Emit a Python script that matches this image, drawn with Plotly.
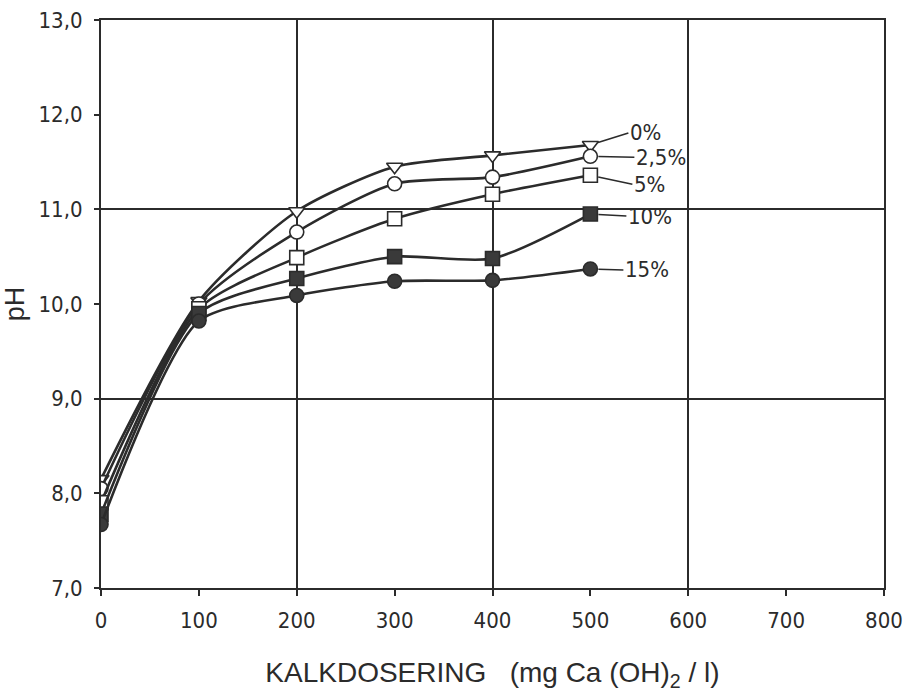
import plotly.graph_objects as go

# Data
dose = [0, 100, 200, 300, 400, 500]
ph_0 = [8.15, 10.03, 10.98, 11.45, 11.57, 11.68]
ph_25 = [8.05, 10.00, 10.76, 11.27, 11.34, 11.56]
ph_5 = [7.90, 9.95, 10.49, 10.90, 11.16, 11.36]
ph_10 = [7.78, 9.90, 10.27, 10.50, 10.48, 10.95]
ph_15 = [7.67, 9.82, 10.09, 10.24, 10.25, 10.37]

series_labels = ["0%", "2,5%", "5%", "10%", "15%"]
series_values = [ph_0, ph_25, ph_5, ph_10, ph_15]
x_ticks = [0, 100, 200, 300, 400, 500, 600, 700, 800]
y_ticks = [7, 8, 9, 10, 11, 12, 13]
x_grid = [200, 400, 600, 800]
y_grid = [9, 11, 13]

INK = "#2b2b2b"
NARROW = "DejaVu Sans Condensed, Liberation Sans Narrow, Liberation Sans, sans-serif"
WIDE = "Liberation Sans, sans-serif"

styles = [
    dict(symbol="triangle-down", color="white"),
    dict(symbol="circle", color="white"),
    dict(symbol="square", color="white"),
    dict(symbol="square", color="#3a3a3a"),
    dict(symbol="circle", color="#3a3a3a"),
]
label_offsets = [(38, -12), (44, 1), (42, 9), (36, 2), (33, 1)]

fig = go.Figure()

# invisible trace to carry the grid overlay axes
fig.add_trace(go.Scatter(x=[0, 800], y=[7, 13], mode="markers",
                         marker=dict(opacity=0), xaxis="x2", yaxis="y2",
                         hoverinfo="skip", showlegend=False))

for lab, vals, st in zip(series_labels, series_values, styles):
    fig.add_trace(go.Scatter(
        x=dose, y=vals, mode="lines+markers", name=lab,
        line=dict(color=INK, width=2.6, shape="spline", smoothing=0.7),
        marker=dict(symbol=st["symbol"], size=14, color=st["color"],
                    line=dict(color=INK, width=1.6)),
        showlegend=False,
    ))

annotations = []
for lab, vals, (ax, ay) in zip(series_labels, series_values, label_offsets):
    annotations.append(dict(
        x=dose[-1], y=vals[-1], xref="x", yref="y",
        text=lab, showarrow=True, arrowhead=0, arrowwidth=1.6,
        arrowcolor=INK, ax=ax, ay=ay, xanchor="left", standoff=8,
        font=dict(family=NARROW, size=22, color=INK),
    ))

fig.update_layout(
    width=903, height=693,
    margin=dict(l=101, r=19, t=20, b=105),
    paper_bgcolor="white", plot_bgcolor="white",
    separators=",.",
    font=dict(family=NARROW, color=INK, size=18),
    xaxis=dict(range=[0, 800], tickvals=x_ticks, showgrid=False,
               zeroline=False, showline=True, linecolor=INK, linewidth=2,
               mirror=True, ticks="outside", ticklen=6, tickwidth=1.5,
               tickcolor=INK, tickfont=dict(size=22), ticklabelstandoff=6,
               ticklabeloverflow="allow", automargin=False,
               title=dict(text="KALKDOSERING&nbsp;&nbsp; (mg Ca (OH)<sub>2</sub> / l)",
                          font=dict(family=WIDE, size=28), standoff=30)),
    yaxis=dict(range=[7, 13], tickvals=y_ticks, tickformat=".1f",
               showgrid=False, zeroline=False, showline=True, linecolor=INK,
               linewidth=2, mirror=True, ticks="outside", ticklen=5,
               tickwidth=1.5, tickcolor=INK, tickfont=dict(size=22),
               ticklabelstandoff=7, automargin=False,
               title=dict(text="pH", font=dict(family=WIDE, size=27),
                          standoff=6)),
    xaxis2=dict(range=[0, 800], overlaying="x", tickvals=x_grid,
                showgrid=True, gridcolor=INK, gridwidth=1.5,
                showticklabels=False, ticks="", zeroline=False,
                showline=False),
    yaxis2=dict(range=[7, 13], overlaying="y", tickvals=y_grid,
                showgrid=True, gridcolor=INK, gridwidth=1.5,
                showticklabels=False, ticks="", zeroline=False,
                showline=False),
    annotations=annotations,
)

fig.write_html("out.html")
